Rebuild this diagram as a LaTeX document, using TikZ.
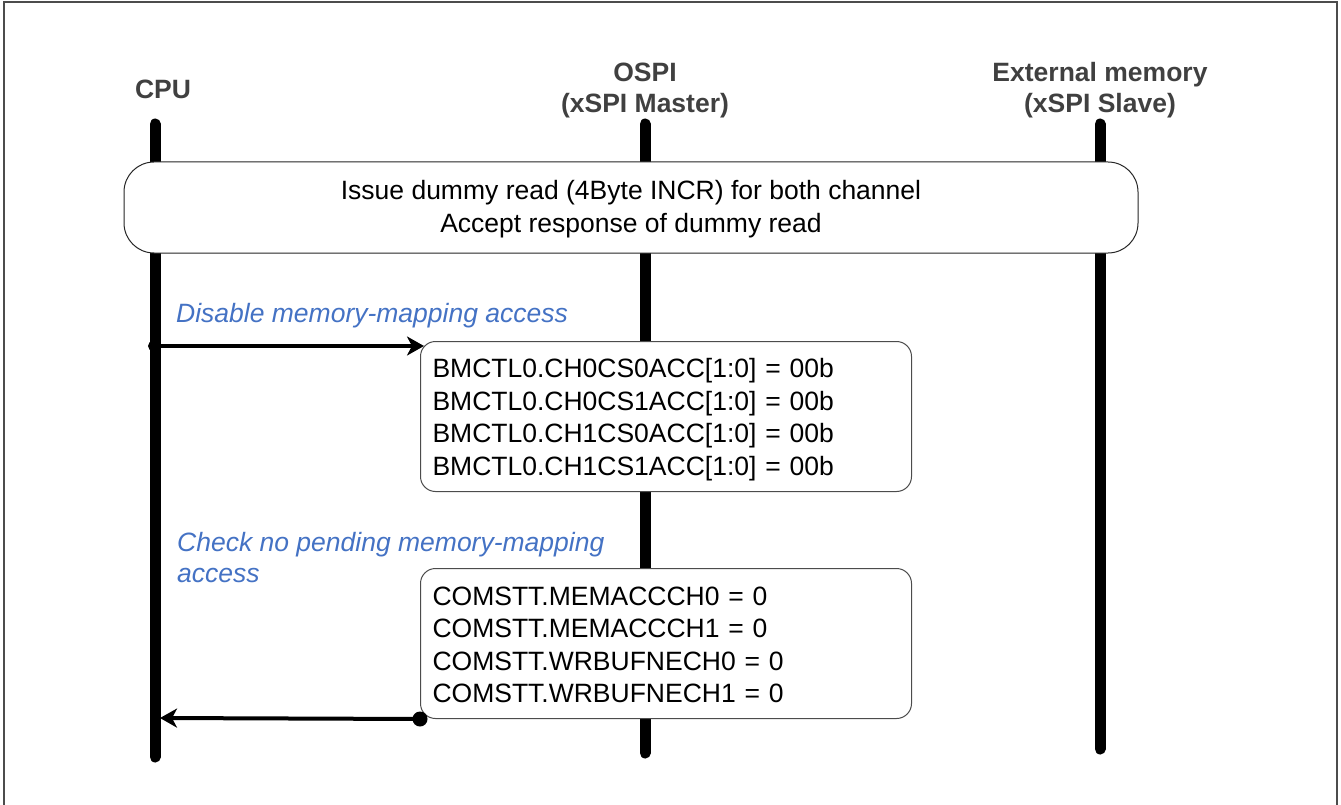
\documentclass[tikz,border=0pt]{standalone}
\usepackage{fontspec}
\setmainfont{Liberation Sans}
\usetikzlibrary{arrows.meta}
\definecolor{hdr}{HTML}{404040}
\definecolor{note}{HTML}{4472C4}
\begin{document}
\begin{tikzpicture}[x=1pt,y=-1pt,
  life/.style={line width=11pt, line cap=round, black},
  bigbox/.style={draw=black!85, line width=1pt, fill=white, rounded corners=30pt,
    minimum width=1014pt, minimum height=91pt, align=center, inner sep=0pt,
    font=\fontsize{26.5}{32.5}\selectfont},
  regbox/.style={draw=black!70, line width=1pt, fill=white, rounded corners=15pt,
    anchor=north west, text width=467pt, minimum height=150pt, align=left, inner xsep=12pt, inner ysep=0pt,
    font=\fontsize{26.5}{32.5}\selectfont},
  hdrlabel/.style={font=\bfseries\fontsize{26.5}{31}\selectfont, text=hdr, align=center, inner sep=0pt},
  notelabel/.style={font=\itshape\fontsize{26.5}{31.5}\selectfont, text=note, align=left, anchor=west, inner sep=0pt},
  msg/.style={line width=4pt, -{Stealth[length=17pt,width=19pt,inset=5pt]}},
  dotmark/.style={circle, fill=black, inner sep=0pt}
]
\useasboundingbox (0,0) rectangle (1341,805);
\draw[draw=black!70, line width=1.5pt] (4,806) -- (4,2) -- (1337,2) -- (1337,806);

% headers
\node[hdrlabel] (hcpu) at (163,89) {CPU};
\node[hdrlabel] (hospi) at (645,90) {OSPI\\(xSPI Master)};
\node[hdrlabel] (hmem) at (1100,90) {External memory\\(xSPI Slave)};

% lifelines
\coordinate (cpuT) at (155,124);
\coordinate (cpuB) at (155,757);
\coordinate (ospiT) at (645,124);
\coordinate (ospiB) at (645,753);
\coordinate (memT) at (1100,124);
\coordinate (memB) at (1100,749);
\draw[life] (cpuT) -- (cpuB);
\draw[life] (ospiT) -- (ospiB);
\draw[life] (memT) -- (memB);

% big box
\node[bigbox] (dummy) at (631,207.5) {\rule{0pt}{22pt}Issue dummy read (4Byte INCR) for both channel\\Accept response of dummy read};

% notes
\node[notelabel] (n1) at (176,315.5) {Disable memory-mapping access};
\node[notelabel] (n2) at (177,557.5) {Check no pending memory-mapping\\access};

% register boxes
\node[regbox] (bm) at (420,341) {\rule{0pt}{25pt}BMCTL0.CH0CS0ACC[1:0] = 00b\\BMCTL0.CH0CS1ACC[1:0] = 00b\\BMCTL0.CH1CS0ACC[1:0] = 00b\\BMCTL0.CH1CS1ACC[1:0] = 00b};
\node[regbox] (cs) at (420,568) {\rule{0pt}{21pt}COMSTT.MEMACCCH0 = 0\\COMSTT.MEMACCCH1 = 0\\COMSTT.WRBUFNECH0 = 0\\COMSTT.WRBUFNECH1 = 0};

% messages
\node[dotmark, minimum size=10pt] (d1) at (153,346) {};
\coordinate (a1e) at (424,346);
\draw[msg] (d1.center) -- (a1e);

\node[dotmark, minimum size=15pt] (d2) at (cs.south west) {};
\coordinate (a2e) at (160,718);
\draw[msg] (d2.center) -- (a2e);
\end{tikzpicture}
\end{document}
